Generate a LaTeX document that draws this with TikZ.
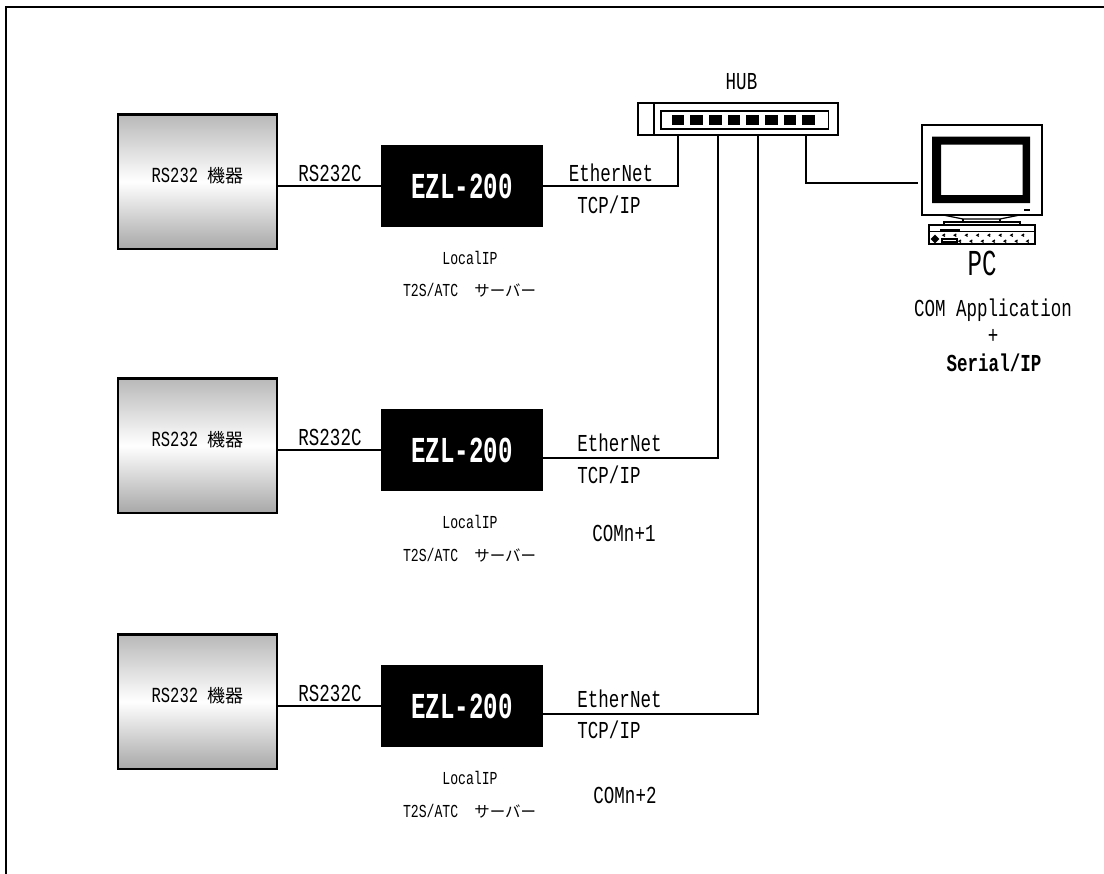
\documentclass[tikz,border=0pt]{standalone}
\usepackage{fontspec}
\usetikzlibrary{shapes.geometric}
\newfontfamily\gothic[FakeStretch=0.72]{Liberation Mono}
\newfontfamily\gothicbig[FakeStretch=0.66]{Liberation Mono}
\newfontfamily\cjk{Noto Sans CJK JP}
\definecolor{devtop}{HTML}{B8B8B8}
\definecolor{devbottom}{HTML}{A8A8A8}
\newcommand{\kata}{{\cjk\fontsize{11}{13}\selectfont サーバー}}
\newcommand{\kiki}{{\cjk\fontsize{12.8}{14}\selectfont 機器}}
\tikzset{
  wire/.style={line width=0.5mm},
  device/.style={draw, line width=0.6mm, minimum width=39.8mm, minimum height=33.6mm,
                 top color=devtop, bottom color=devbottom, middle color=white, inner sep=0pt},
  devlabel/.style={inner sep=0pt, font=\gothic\fontsize{15.3}{17}\selectfont},
  ezl/.style={fill=black, text=white, minimum width=40.5mm, minimum height=20.5mm, inner sep=0pt,
              font=\gothicbig\bfseries\fontsize{26}{28}\selectfont},
  midlabel/.style={inner sep=0pt, font=\gothic\fontsize{17.3}{19}\selectfont},
  smalllabel/.style={inner sep=0pt, font=\gothic\fontsize{13}{14}\selectfont},
  biglabel/.style={inner sep=0pt, font=\gothicbig\fontsize{26}{28}\selectfont},
  hubport/.style={fill=black, minimum width=3.2mm, minimum height=2.5mm, inner sep=0pt},
  thinpart/.style={line width=0.3mm},
}
\begin{document}
\begin{tikzpicture}[x=0.25mm, y=-0.25mm]
    \useasboundingbox (0,0) rectangle (1104,874);
    \draw[line width=0.5mm] (5.5,874) -- (5.5,6.5) -- (1104,6.5);

    \node[device] (dev1) at (197.5,181.5) {};
    \node[device] (dev2) at (197.5,445.5) {};
    \node[device] (dev3) at (197.5,701.5) {};
    \node[devlabel] (devname1) at (197.5,176) {RS232 \kiki};
    \node[devlabel] (devname2) at (197.5,440) {RS232 \kiki};
    \node[devlabel] (devname3) at (197.5,696) {RS232 \kiki};
    \node[ezl] (ezl1) at (462,186) {EZL-200};
    \node[ezl] (ezl2) at (462,450) {EZL-200};
    \node[ezl] (ezl3) at (462,706) {EZL-200};

    \node[draw, wire, minimum width=50mm, minimum height=8mm] (hub) at (738,119) {};
    \draw[wire] (654,103) -- (654,135);
    \node[draw, thinpart, minimum width=41.8mm, minimum height=4.5mm] (hubfront) at (744.5,120) {};
    \node[hubport] (p1) at (678,120) {};
    \node[hubport] (p2) at (696.7,120) {};
    \node[hubport] (p3) at (715.4,120) {};
    \node[hubport] (p4) at (734,120) {};
    \node[hubport] (p5) at (752.7,120) {};
    \node[hubport] (p6) at (771.4,120) {};
    \node[hubport] (p7) at (790,120) {};
    \node[hubport] (p8) at (808.7,120) {};

    \node[draw, wire, minimum width=30mm, minimum height=22.5mm] (monitor) at (982,170) {};
    \fill[even odd rule] (932,136.5) rectangle (1030,203) (941,144.5) rectangle (1022.5,195);
    \fill (1024,209) rectangle (1030,211);
    \draw[thinpart] (943,215) -- (963,219) -- (1000,219) -- (1020,215);
    \draw[thinpart] (963,219) -- (963,222) (1000,219) -- (1000,222);
    \draw[wire] (944,225) -- (944,222) -- (1019.5,222) -- (1019.5,225);
    \node[draw, wire, minimum width=26.3mm, minimum height=4.8mm] (keyboard) at (982,234.5) {};
    \draw[thinpart] (929,231.5) -- (1035,231.5);
    \fill (940,229) rectangle (960,232);
    \node[diamond, fill=black, minimum size=2.2mm, inner sep=0pt] (kbdkey) at (935,239) {};
    \draw[thinpart] (942,239) rectangle (957,242);
    \foreach \k in {0,...,7} {
      \draw[thinpart] (\k*11.3+945,234) -- ++(-2,1.2) -- ++(2,1.2);
    }
    \foreach \k in {0,...,6} {
      \draw[thinpart] (\k*11.3+961,240) -- ++(-2,1.2) -- ++(2,1.2);
    }

    \coordinate (tap1) at (678,186);
    \coordinate (tap2) at (718,458);
    \coordinate (tap3) at (758,714);
    \coordinate (tap4) at (806,183);
    \coordinate (pcend) at (918,183);

    \draw[wire] (ezl1.west -| dev1.east) -- (ezl1.west);
    \draw[wire] (ezl2.west -| dev2.east) -- (ezl2.west);
    \draw[wire] (ezl3.west -| dev3.east) -- (ezl3.west);
    \draw[wire] (ezl1.east) -- (tap1) -- (tap1 |- hub.south);
    \draw[wire] (ezl2.east |- tap2) -- (tap2) -- (tap2 |- hub.south);
    \draw[wire] (ezl3.east |- tap3) -- (tap3) -- (tap3 |- hub.south);
    \draw[wire] (tap4 |- hub.south) -- (tap4) -- (pcend);

    \node[midlabel] (rs1) at (330,173) {RS232C};
    \node[midlabel] (rs2) at (330,437) {RS232C};
    \node[midlabel] (rs3) at (330,693) {RS232C};
    \node[midlabel] (eth1) at (611,173) {EtherNet};
    \node[midlabel] (eth2) at (619.5,443) {EtherNet};
    \node[midlabel] (eth3) at (619.5,699) {EtherNet};
    \node[midlabel] (tcp1) at (609,205) {TCP/IP};
    \node[midlabel] (tcp2) at (609,474.5) {TCP/IP};
    \node[midlabel] (tcp3) at (609,730) {TCP/IP};
    \node[smalllabel] (ip1) at (470,258) {LocalIP};
    \node[smalllabel] (ip2) at (470,522) {LocalIP};
    \node[smalllabel] (ip3) at (470,778) {LocalIP};
    \node[smalllabel] (srv1) at (469.5,290) {T2S/ATC\hspace{4mm}\kata};
    \node[smalllabel] (srv2) at (469.5,555) {T2S/ATC\hspace{4mm}\kata};
    \node[smalllabel] (srv3) at (469.5,811) {T2S/ATC\hspace{4mm}\kata};
    \node[midlabel] (com2) at (624,533) {COMn+1};
    \node[midlabel] (com3) at (625,795) {COMn+2};
    \node[midlabel] (hubname) at (741.5,82) {HUB};
    \node[biglabel] (pcname) at (982,263) {PC};
    \node[midlabel] (app) at (993,310) {COM Application};
    \node[midlabel] (plus) at (993,336) {+};
    \node[midlabel, font=\gothic\bfseries\fontsize{17.3}{19}\selectfont] (serial) at (994,363) {Serial/IP};
\end{tikzpicture}
\end{document}
